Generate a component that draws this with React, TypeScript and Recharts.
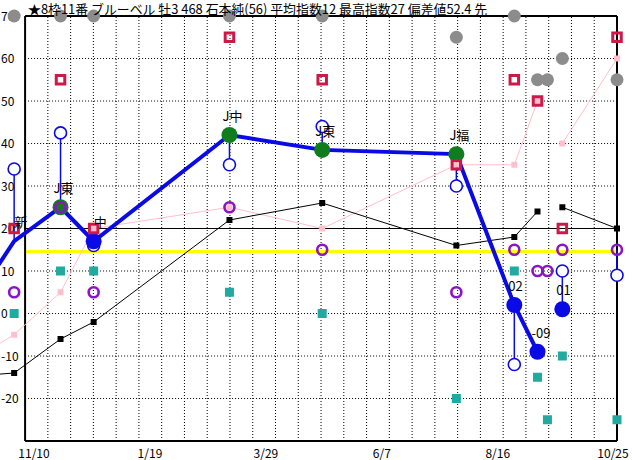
import { useLayoutEffect } from 'react'
import { ComposedChart, XAxis, YAxis, Line, Scatter, ReferenceLine } from 'recharts'

// race days, counted from 11/10 (day 0)
const raceDays = [-29, -12, 16, 36, 118, 174, 255, 290, 304, 310, 319, 352]
const raceMarks = ['', '新', 'J東', '中', 'J中', 'J東', 'J福', '02', '-09', '', '01', '']
const mainIndex = [7, 17, 25, 17, 42, 38.5, 37.5, 2, -9, null, 1, null]
const mainGreen = [false, true, true, false, true, true, true, false, false, false, false, false]
const subIndex = [null, 34, 42.5, 16, 35, 44, 30, -12, null, null, 10, 9]
const stemFrom = [null, 17, 25, 17, 42, 38.5, 37.5, 2, null, null, 1, 15]
const purpleIndex = [null, 5, 25, 5, 25, 15, 5, 15, 10, 10, 15, 15]
const tealIndex = [null, 0, 10, 10, 5, 0, -20, 10, -15, -25, -10, -25]
const redIndex = [null, 20, 55, 20, 65, 55, 35, 55, 50, null, 20, 65]
const pinkIndex = [-9, -5, 5, 20, 25, 20, 35, 35, 50, null, 40, 60]
const blackIndex = [-14.5, -14, -6, -2, 22, 26, 16, 18, 24, null, 25, 20]
const grayIndex = [null, 70, 70, 70, 70, 70, 65, 70, 55, 55, 60, 55]

const tickDays = [0, 70, 140, 210, 280, 350]
const tickLabels = ['11/10', '1/19', '3/29', '6/7', '8/16', '10/25']
const yLabels = [-20, -10, 0, 10, 20, 30, 40, 50, 60, 70]
const dottedY = [-20, -10, 0, 10, 30, 40, 50, 60]
const avgLine = 14.6
const midLine = 20
const frameStart = -5.4
const frameEnd = 352
const frameSteps = 26

const title = '★8枠11番 ブルーベル 牡3 468 石本純(56) 平均指数12 最高指数27 偏差値52.4 先'
const FONT = "'Noto Sans CJK JP', sans-serif"
const BLUE = '#0a0ae6'

type Row = {
  day: number
  mark: string
  main: number | null
  green: boolean
  sub: number | null
  purple: number | null
  teal: number | null
  red: number | null
  pink: number | null
  black: number | null
  gray: number | null
}

const rows: Row[] = raceDays.map((day, i) => ({
  day,
  mark: raceMarks[i],
  main: mainIndex[i],
  green: mainGreen[i],
  sub: subIndex[i],
  purple: purpleIndex[i],
  teal: tealIndex[i],
  red: redIndex[i],
  pink: pinkIndex[i],
  black: blackIndex[i],
  gray: grayIndex[i],
}))

// y tick labels hang off the frame's left edge
const yLabelRows = yLabels.map((v) => ({ day: frameStart, ylab: v }))

const only = (k: keyof Row) => rows.filter((r) => r[k] != null)

const square = (size: number, fill: string, stroke?: string, sw?: number) => (p: any) => (
  <rect x={p.cx - size / 2} y={p.cy - size / 2} width={size} height={size} fill={fill} stroke={stroke} strokeWidth={sw} />
)
const circle = (r: number, fill: string, stroke?: string, sw?: number) => (p: any) => (
  <circle cx={p.cx} cy={p.cy} r={r} fill={fill} stroke={stroke} strokeWidth={sw} />
)

function MarkText(p: any) {
  const s: string = p.payload?.mark ?? ''
  if (!s) return <g />
  const numeric = /^[-0-9]/.test(s)
  return (
    <text
      x={numeric ? p.cx - 6 : p.cx + 13}
      y={p.cy - 14}
      textAnchor={numeric ? 'start' : 'end'}
      fontSize={13}
      fontFamily={FONT}
      fill="#000"
    >
      {s}
    </text>
  )
}

function YText(p: any) {
  return (
    <text x={p.cx - 24} y={p.cy + 4.5} textAnchor="start" fontSize={12} fontFamily={FONT} fill="#000">
      {p.payload?.ylab}
    </text>
  )
}

function XTick({ x, y, payload }: any) {
  const last = payload.value === tickDays[tickDays.length - 1]
  return (
    <text x={last ? x + 15 : x} y={y} dy={9} textAnchor={last ? 'end' : 'middle'} fontSize={12} fontFamily={FONT} fill="#000">
      {tickLabels[tickDays.indexOf(payload.value)]}
    </text>
  )
}

export default function App() {
  useLayoutEffect(() => {
    document.body.style.margin = '0'
    document.documentElement.style.overflow = 'hidden'
  }, [])

  const gridX: number[] = []
  for (let i = 1; i < frameSteps; i++) gridX.push(frameStart + ((frameEnd - frameStart) * i) / frameSteps)

  return (
    <div style={{ position: 'relative', width: 632, height: 460, background: '#fff', overflow: 'hidden' }}>
      <div style={{ position: 'absolute', left: 0, top: 0 }}>
        <ComposedChart width={632} height={460} data={rows} margin={{ top: 16, right: 15, bottom: 0, left: -14 }}>
          <XAxis
            dataKey="day"
            type="number"
            domain={[raceDays[0], frameEnd]}
            ticks={tickDays}
            axisLine={false}
            tickLine={false}
            height={19}
            interval={0}
            tick={<XTick />}
          />
          <YAxis type="number" domain={[-30, 70]} ticks={yLabels} width={0} axisLine={false} tickLine={false} tick={false} />

          {dottedY.map((v) => (
            <ReferenceLine key={'h' + v} segment={[{ x: frameStart, y: v }, { x: frameEnd, y: v }]} stroke="#000" strokeDasharray="1 2" />
          ))}
          {gridX.map((v) => (
            <ReferenceLine key={'v' + v} segment={[{ x: v, y: -30 }, { x: v, y: 70 }]} stroke="#000" strokeDasharray="1 2" />
          ))}
          <ReferenceLine segment={[{ x: frameStart, y: midLine }, { x: frameEnd, y: midLine }]} stroke="#000" strokeWidth={1} />
          <ReferenceLine segment={[{ x: frameStart, y: avgLine }, { x: frameEnd, y: avgLine }]} stroke="#ffff00" strokeWidth={3} />
          <ReferenceLine segment={[{ x: frameStart, y: 70 }, { x: frameEnd, y: 70 }]} stroke="#000" strokeWidth={2} />
          <ReferenceLine segment={[{ x: frameStart, y: -30 }, { x: frameEnd, y: -30 }]} stroke="#000" strokeWidth={2} />
          <ReferenceLine segment={[{ x: frameStart, y: -30 }, { x: frameStart, y: 70 }]} stroke="#000" strokeWidth={2} />
          <ReferenceLine segment={[{ x: frameEnd, y: -30 }, { x: frameEnd, y: 70 }]} stroke="#000" strokeWidth={2} />

          <Scatter data={yLabelRows} dataKey="ylab" shape={<YText />} isAnimationActive={false} />

          <Line dataKey="pink" stroke="#ffc0cb" strokeWidth={1} dot={false} isAnimationActive={false} />
          <Line dataKey="black" stroke="#000" strokeWidth={1} dot={false} isAnimationActive={false} />
          <Scatter data={only('pink')} dataKey="pink" shape={square(6, '#ffbfcb')} isAnimationActive={false} />
          <Scatter data={only('black')} dataKey="black" shape={square(6, '#000')} isAnimationActive={false} />
          <Line dataKey="main" stroke={BLUE} strokeWidth={4} dot={false} isAnimationActive={false} />

          {raceDays.map((d, i) =>
            stemFrom[i] != null && subIndex[i] != null ? (
              <ReferenceLine key={'s' + i} segment={[{ x: d, y: stemFrom[i] }, { x: d, y: subIndex[i] }]} stroke={BLUE} strokeWidth={1.5} />
            ) : null,
          )}
          <Scatter data={only('sub')} dataKey="sub" shape={circle(6, '#fff', BLUE, 1.6)} isAnimationActive={false} />
          <Scatter data={rows.filter((r) => r.main != null && r.green && r.day > frameStart)} dataKey="main" shape={circle(8, '#0f7d1e')} isAnimationActive={false} />
          <Scatter data={rows.filter((r) => r.main != null && !r.green && r.day > frameStart)} dataKey="main" shape={circle(8, BLUE)} isAnimationActive={false} />
          <Scatter data={only('teal')} dataKey="teal" shape={square(9, '#20aaa0')} isAnimationActive={false} />
          <Scatter data={only('purple')} dataKey="purple" shape={circle(5, 'none', '#8c14c8', 2.6)} isAnimationActive={false} />
          <Scatter data={only('red')} dataKey="red" shape={square(8.5, 'none', '#d01848', 3)} isAnimationActive={false} />
          <Scatter data={only('gray')} dataKey="gray" shape={circle(6.5, '#8c8c8c')} isAnimationActive={false} />
          <Scatter data={rows.filter((r) => r.mark && r.main != null)} dataKey="main" shape={<MarkText />} isAnimationActive={false} />
        </ComposedChart>
      </div>
      <svg width={632} height={20} style={{ position: 'absolute', left: 0, top: 0, pointerEvents: 'none' }}>
        <text x={28} y={13.5} fontSize={12.9} fontFamily={FONT} fill="#000">
          {title}
        </text>
      </svg>
    </div>
  )
}
